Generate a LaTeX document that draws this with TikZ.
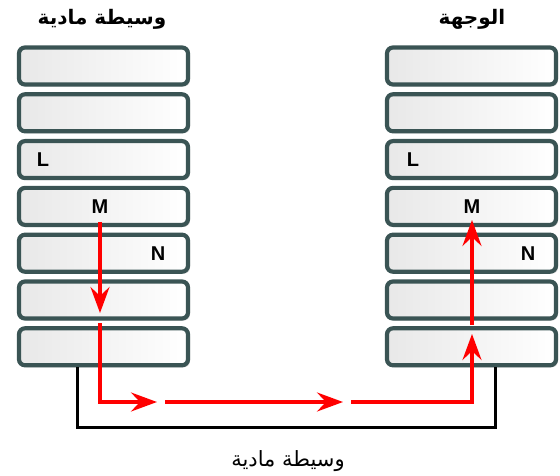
\documentclass[tikz,border=0pt]{standalone}
\usepackage{fontspec}
\setmainfont{Liberation Sans}
\newfontfamily\arabicfont[Script=Arabic]{DejaVu Sans}
\TeXXeTstate=1
\usetikzlibrary{arrows.meta,shadows}
\definecolor{boxedge}{RGB}{58,84,84}
\definecolor{flow}{RGB}{255,0,0}
\tikzset{
  layerbox/.style={draw=boxedge, line width=4.2pt, rounded corners=6pt,
    minimum width=169pt, minimum height=37pt, inner sep=0pt,
    left color=gray!18, right color=white,
    drop shadow={opacity=0.3, shadow xshift=2pt, shadow yshift=-2pt}},
  lbl/.style={font=\bfseries\fontsize{20}{20}\selectfont, inner sep=0pt},
  title/.style={font=\arabicfont\bfseries\fontsize{20}{24}\selectfont, inner sep=0pt},
  flowline/.style={draw=flow, line width=3.4pt, -{Stealth[length=26pt,width=19pt,inset=9pt]}},
  wire/.style={draw=black, line width=3pt}
}
\begin{document}
\begin{tikzpicture}[x=1pt,y=-1pt]
\useasboundingbox (0,0) rectangle (560,476);
\foreach \i/\y in {1/66,2/112.8,3/159.6,4/206.4,5/253.2,6/300,7/346.8}{
  \node[layerbox] (l\i) at (103.5,\y) {};
  \node[layerbox] (r\i) at (471.5,\y) {};
}
\node[title] (tl) at (102,19) {\beginR وسيطة مادية\endR};
\node[title] (tr) at (472,19) {\beginR الوجهة\endR};
\node[font=\arabicfont\fontsize{21}{24}\selectfont, inner sep=0pt] (tb) at (288,461) {\beginR وسيطة مادية\endR};
% letters
\node[lbl] (lL) at (43,160) {L};
\node[lbl] (lM) at (100,207) {M};
\node[lbl] (lN) at (158,254) {N};
\node[lbl] (rL) at (413,160) {L};
\node[lbl] (rM) at (472,207) {M};
\node[lbl] (rN) at (528,254) {N};
% black wire
\coordinate (wa) at (77,427);
\coordinate (wb) at (495,427);
\draw[wire] (l7.south -| wa) -- (wa) -- (wb) -- (r7.south -| wb);
% red flow
\coordinate (a0) at (100,222);
\coordinate (a1) at (100,313);
\coordinate (a2) at (100,323);
\coordinate (c1) at (100,402);
\coordinate (a3) at (157,402);
\coordinate (a4) at (165,402);
\coordinate (a5) at (343,402);
\coordinate (a6) at (351,402);
\coordinate (c2) at (472,402);
\coordinate (a7) at (472,334);
\coordinate (a8) at (472,325);
\coordinate (a9) at (472,220);
\draw[flowline] (a0) -- (a1);
\draw[flowline] (a2) -- (c1) -- (a3);
\draw[flowline] (a4) -- (a5);
\draw[flowline] (a6) -- (c2) -- (a7);
\draw[flowline] (a8) -- (a9);
\end{tikzpicture}
\end{document}
